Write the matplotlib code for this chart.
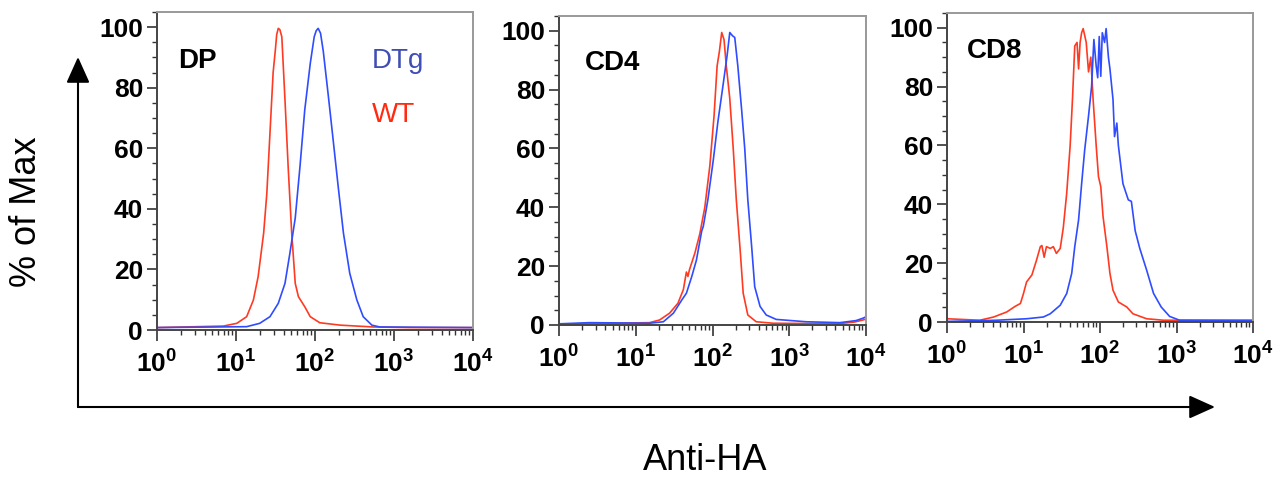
"""Anti-HA flow histograms (DP / CD4 / CD8), WT vs DTg."""
import numpy as np
import matplotlib
matplotlib.use("Agg")
import matplotlib.pyplot as plt
import matplotlib.patches as mpatches
from matplotlib.ticker import MultipleLocator, LogLocator, NullFormatter

# ---- data: x = log10(fluorescence), y = % of max ----
PANELS = ["DP", "CD4", "CD8"]

DP_WT_LOG = [0.0, 0.84, 1.01, 1.135, 1.22, 1.28, 1.35, 1.39, 1.43, 1.47, 1.50, 1.515, 1.535, 1.555, 1.58,
             1.62, 1.66, 1.705, 1.75, 1.79, 1.87, 1.94, 2.06, 2.32, 2.74, 3.2, 4.0]
DP_WT_PCT = [0.8, 1.3, 2.2, 4.4, 9.9, 17.6, 32, 45, 65, 85, 93, 97.5, 99.6, 99.2, 96.8,
             76, 54, 32, 15.4, 11, 7.7, 4.4, 2.4, 1.6, 1.0, 0.8, 0.8]
DP_TG_LOG = [0.0, 1.135, 1.30, 1.43, 1.535, 1.62, 1.68, 1.75, 1.81, 1.87, 1.94, 1.99, 2.015, 2.04, 2.07,
             2.105, 2.17, 2.23, 2.295, 2.36, 2.44, 2.53, 2.61, 2.72, 2.82, 4.0]
DP_TG_PCT = [0.8, 1.1, 2.2, 4.4, 8.8, 15.4, 25, 37, 54, 72.6, 88, 96.8, 98.8, 99.6, 98,
             92, 77, 62.7, 47, 32, 18.7, 9.9, 4.4, 1.6, 1.0, 0.8]

CD4_WT_LOG = [0.0, 0.5, 1.18, 1.31, 1.44, 1.55, 1.62, 1.66, 1.68, 1.70, 1.77, 1.835, 1.90, 1.965, 2.02,
              2.06, 2.09, 2.12, 2.15, 2.18, 2.225, 2.27, 2.31, 2.36, 2.40, 2.46, 2.57, 2.79, 3.3, 3.66,
              3.85, 3.96, 4.0]
CD4_WT_PCT = [0.3, 0.5, 0.8, 1.7, 4, 7.4, 12, 18, 16.5, 18.8, 24.4, 31, 40, 54, 71,
              88, 93, 99.4, 97, 88, 77, 60, 42.6, 25.6, 10.8, 3.4, 1.1, 0.6, 0.5, 0.5,
              1.0, 1.7, 2.0]
CD4_TG_LOG = [0.0, 0.4, 1.18, 1.36, 1.49, 1.60, 1.66, 1.73, 1.79, 1.86, 1.88, 1.94, 2.01, 2.07, 2.14,
              2.19, 2.225, 2.26, 2.29, 2.33, 2.38, 2.42, 2.46, 2.51, 2.55, 2.62, 2.70, 2.83, 3.22,
              3.66, 3.87, 3.96, 4.0]
CD4_TG_PCT = [0.4, 0.8, 0.6, 1.1, 4, 8.5, 10.8, 16.5, 22, 32, 33.5, 42.6, 56, 69, 82,
              91.5, 99.4, 98.3, 97.7, 88, 73, 60, 42.6, 26.7, 13, 6.3, 3.4, 1.9, 1.1,
              0.8, 1.5, 2.3, 2.8]

CD8_WT_LOG = [0.0, 0.43, 0.61, 0.78, 0.89, 0.96, 1.0, 1.04, 1.11, 1.17, 1.22, 1.24, 1.27, 1.30, 1.35,
              1.39, 1.43, 1.48, 1.52, 1.565, 1.61, 1.64, 1.67, 1.70, 1.72, 1.74, 1.76, 1.78, 1.82,
              1.85, 1.88, 1.91, 1.95, 1.98, 2.01, 2.04, 2.09, 2.13, 2.17, 2.24, 2.35, 2.43, 2.61,
              2.83, 4.0]
CD8_WT_PCT = [1.1, 0.6, 1.7, 3.4, 5.3, 6.3, 9.7, 13.6, 16, 21, 25.6, 26, 22, 25.6, 25,
              25.6, 23.3, 25, 32, 43.8, 60, 75.6, 93.8, 95, 86, 95, 98.3, 99.7, 95,
              85, 90, 75.6, 60, 49.4, 46, 35.8, 25.6, 16.5, 10.8, 6.8, 5.1, 2.8, 1.1,
              0.6, 0.6]
CD8_TG_LOG = [0.0, 0.65, 1.04, 1.26, 1.35, 1.48, 1.565, 1.63, 1.67, 1.72, 1.76, 1.80, 1.85, 1.89,
              1.92, 1.95, 1.97, 1.99, 2.01, 2.03, 2.06, 2.08, 2.11, 2.13, 2.17, 2.19, 2.22, 2.24,
              2.30, 2.37, 2.41, 2.46, 2.52, 2.61, 2.70, 2.80, 2.91, 3.04, 4.0]
CD8_TG_PCT = [0.2, 0.6, 1.1, 1.7, 2.8, 5.7, 9.7, 16.5, 25.6, 34.7, 47, 58.5, 70, 80,
              96, 87, 83, 97, 83.5, 98.3, 95, 99.7, 90, 86, 75.6, 63, 67.6, 60,
              47, 41.5, 41, 31, 25, 17.6, 9.7, 5.1, 1.9, 0.6, 0.5]

SERIES = {
    "DP": ((DP_WT_LOG, DP_WT_PCT), (DP_TG_LOG, DP_TG_PCT)),
    "CD4": ((CD4_WT_LOG, CD4_WT_PCT), (CD4_TG_LOG, CD4_TG_PCT)),
    "CD8": ((CD8_WT_LOG, CD8_WT_PCT), (CD8_TG_LOG, CD8_TG_PCT)),
}
Y_TICKS = [0, 20, 40, 60, 80, 100]
X_TICKS = [1, 10, 100, 1000, 10000]
X_TICKLABELS = [r"$\mathbf{10^{%d}}$" % i for i in range(5)]

RED = "#ff3a22"
BLUE = "#2f4cff"
LABEL_BLUE = "#3f4db5"
LABEL_RED = "#ff2a10"

plt.rcParams.update({
    "font.family": ["Liberation Sans", "DejaVu Sans"],
    "mathtext.fontset": "custom",
    "mathtext.rm": "Liberation Sans",
    "mathtext.bf": "Liberation Sans:bold",
})

W, H = 1284, 479
fig = plt.figure(figsize=(W / 100, H / 100), dpi=100)

# axes boxes in pixel coordinates: left, top, right, y=0 line
BOXES = [(157, 12, 473, 330), (559, 16, 866, 325), (947, 13, 1253, 322)]
# panel label positions (axes fraction, baseline)
TAG_POS = [(0.066, 0.824), (0.085, 0.825), (0.065, 0.854)]

for name, (l, t, r, b), (tx, ty) in zip(PANELS, BOXES, TAG_POS):
    ax = fig.add_axes([l / W, 1 - b / H, (r - l) / W, (b - t) / H])
    (wt_x, wt_y), (tg_x, tg_y) = SERIES[name]
    ax.plot(10 ** np.array(wt_x), wt_y, color=RED, lw=1.2)
    ax.plot(10 ** np.array(tg_x), tg_y, color=BLUE, lw=1.2)
    ax.set_xscale("log")
    ax.set_xlim(1, 1e4)
    ax.set_ylim(0, 105)

    ax.set_yticks(Y_TICKS)
    ax.set_yticklabels([str(v) for v in Y_TICKS], fontweight="bold", fontsize=19)
    ax.yaxis.set_minor_locator(MultipleLocator(5))
    ax.set_xticks(X_TICKS)
    ax.set_xticklabels(X_TICKLABELS, fontsize=19)
    ax.xaxis.set_minor_locator(LogLocator(base=10, subs=np.arange(2, 10)))
    ax.xaxis.set_minor_formatter(NullFormatter())
    ax.tick_params(which="major", direction="out", length=7, width=1.2, color="#333333", pad=3)
    ax.tick_params(which="minor", direction="out", length=3.5, width=1.0, color="#333333")
    ax.tick_params(axis="x", which="major", length=8, pad=7)

    for side in ("top", "right"):
        ax.spines[side].set_color("#999999")
        ax.spines[side].set_linewidth(1.4)
    for side in ("left", "bottom"):
        ax.spines[side].set_color("#444444")
        ax.spines[side].set_linewidth(1.4)

    ax.text(tx, ty, name, transform=ax.transAxes, fontsize=20, fontweight="bold",
            va="baseline", ha="left")
    if name == "DP":
        ax.text(0.68, 0.824, "DTg", transform=ax.transAxes, fontsize=20,
                color=LABEL_BLUE, va="baseline", ha="left")
        ax.text(0.68, 0.654, "WT", transform=ax.transAxes, fontsize=20,
                color=LABEL_RED, va="baseline", ha="left")

# axis arrows drawn in pixel space
def px(x, y):
    return (x / W, 1 - y / H)

arrow_kw = dict(transform=fig.transFigure, color="black", lw=1.5, shrinkA=0, shrinkB=0,
                arrowstyle="-|>,head_length=0.8,head_width=0.36", mutation_scale=20)
fig.add_artist(mpatches.FancyArrowPatch(px(78, 407), px(78, 57), **arrow_kw))
fig.add_artist(mpatches.FancyArrowPatch(px(78, 407), px(1215, 407), **arrow_kw))

fig.text(*px(27, 212), "% of Max", rotation=90, fontsize=26, ha="center", va="center")
fig.text(*px(705, 460), "Anti-HA", fontsize=26, ha="center", va="center")

fig.savefig("out.png", dpi=100)
